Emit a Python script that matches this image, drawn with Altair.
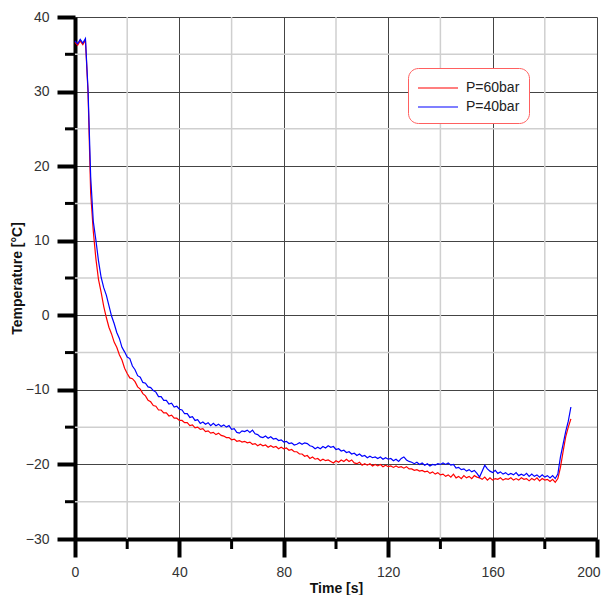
import altair as alt
import pandas as pd

SERIES = ["P=60bar", "P=40bar"]
COLORS = ["#ff0000", "#0000ff"]

TIME = list(range(0, 191))

T_60 = [
    36.6, 36.2, 36.8, 36.3, 36.9, 29.8, 16.4, 11.3, 7.6, 4.8,
    3.1, 1.2, -0.3, -1.6, -2.5, -3.6, -4.3, -5.3, -6.0, -7.1,
    -7.8, -8.4, -8.5, -8.9, -9.6, -9.9, -10.5, -10.8, -11.4, -11.6,
    -12.1, -12.2, -12.7, -12.7, -13.1, -13.1, -13.5, -13.4, -13.8, -13.8,
    -14.1, -14.1, -14.4, -14.4, -14.8, -14.7, -15.1, -15.0, -15.3, -15.2,
    -15.6, -15.5, -15.8, -15.7, -16.0, -15.8, -16.1, -16.2, -16.4, -16.4,
    -16.7, -16.6, -16.9, -16.8, -17.0, -16.9, -17.1, -17.0, -17.3, -17.2,
    -17.5, -17.3, -17.5, -17.4, -17.7, -17.5, -17.7, -17.6, -17.9, -17.7,
    -17.9, -17.8, -18.1, -18.0, -18.3, -18.3, -18.6, -18.6, -18.9, -18.8,
    -19.2, -19.0, -19.3, -19.2, -19.5, -19.3, -19.5, -19.4, -19.6, -19.8,
    -19.5, -19.7, -19.4, -19.6, -19.3, -19.6, -19.4, -19.8, -19.9, -19.7,
    -20.1, -19.9, -20.1, -19.9, -20.2, -20.0, -20.2, -20.0, -20.3, -20.1,
    -20.3, -20.2, -20.4, -20.2, -20.4, -20.3, -20.5, -20.3, -20.6, -20.6,
    -20.8, -20.7, -20.9, -20.8, -21.0, -20.9, -21.2, -21.0, -21.3, -21.1,
    -21.4, -21.3, -21.6, -21.4, -21.7, -21.3, -21.8, -21.6, -21.9, -21.5,
    -21.8, -21.6, -21.9, -21.5, -21.7, -21.8, -22.0, -21.7, -22.1, -21.8,
    -22.1, -21.9, -22.0, -21.8, -22.1, -21.9, -22.0, -21.8, -22.1, -21.9,
    -22.1, -21.8, -22.0, -21.9, -22.2, -21.9, -22.1, -21.8, -22.2, -21.9,
    -22.1, -22.0, -22.3, -22.0, -22.4, -21.9, -20.4, -18.3, -16.3, -15.0,
    -13.9,
]

T_40 = [
    36.8, 36.4, 37.0, 36.5, 37.1, 30.2, 18.6, 12.6, 10.1, 7.3,
    5.1, 3.7, 2.7, 1.3, -0.1, -1.1, -2.3, -3.1, -4.3, -4.9,
    -5.6, -5.8, -6.8, -7.3, -8.1, -8.3, -9.0, -9.1, -9.6, -9.7,
    -10.1, -10.3, -10.9, -10.9, -11.4, -11.4, -11.9, -11.8, -12.3, -12.2,
    -12.6, -12.7, -13.2, -13.2, -13.7, -13.6, -14.1, -14.0, -14.5, -14.3,
    -14.6, -14.4, -14.8, -14.5, -14.8, -14.6, -14.9, -14.7, -15.0, -14.8,
    -15.3, -15.2, -15.7, -15.8, -15.5, -15.6, -15.4, -15.7, -15.4, -15.9,
    -16.0, -16.3, -16.4, -16.2, -16.5, -16.3, -16.6, -16.5, -16.8, -16.7,
    -17.0, -16.9, -17.2, -17.1, -17.4, -17.3, -17.1, -17.3, -17.1, -17.2,
    -17.5, -17.6, -17.9, -17.7, -17.9, -17.6, -17.8, -17.5, -17.7, -17.6,
    -18.0, -17.9, -18.2, -18.1, -18.4, -18.3, -18.6, -18.5, -18.8, -18.6,
    -18.9, -18.8, -19.1, -18.9, -19.1, -19.0, -19.2, -19.0, -19.3, -19.1,
    -19.3, -19.2, -19.5, -19.3, -19.6, -19.2, -19.0, -19.4, -19.6, -19.7,
    -19.9, -19.7, -20.0, -19.8, -20.1, -19.9, -20.2, -20.0, -20.1, -19.9,
    -20.0, -19.8, -20.0, -19.8, -20.1, -20.0, -20.5, -20.4, -20.7, -20.6,
    -20.9, -20.7, -21.0, -20.8, -21.2, -21.7, -20.9, -20.1, -20.6, -20.9,
    -21.1, -20.8, -21.2, -21.0, -21.3, -21.1, -21.4, -21.2, -21.4, -21.1,
    -21.5, -21.3, -21.5, -21.2, -21.6, -21.3, -21.6, -21.4, -21.7, -21.4,
    -21.7, -21.5, -21.8, -21.5, -21.9, -21.3, -19.0, -17.3, -15.6, -14.2,
    -12.3,
]

X_MAJOR = [0, 40, 80, 120, 160, 200]
X_MINOR = [20, 60, 100, 140, 180]
Y_MAJOR = [-30, -20, -10, 0, 10, 20, 30, 40]
Y_MINOR = [-25, -15, -5, 5, 15, 25, 35]

FONT = "Liberation Sans"

df = pd.concat([
    pd.DataFrame({"t": TIME, "T": T_60, "series": SERIES[0]}),
    pd.DataFrame({"t": TIME, "T": T_40, "series": SERIES[1]}),
], ignore_index=True)
dfxm = pd.DataFrame({"t": X_MINOR})
dfym = pd.DataFrame({"T": Y_MINOR})

xscale = alt.Scale(domain=[0, 200], nice=False, zero=False)
yscale = alt.Scale(domain=[-30, 40], nice=False, zero=False)

xaxis = alt.Axis(
    values=X_MAJOR, title="Time [s]", tickSize=18, tickWidth=4, tickColor="black",
    domainColor="black", domainWidth=4, grid=True, gridColor="#444444", gridWidth=1,
    labelFont=FONT, labelFontSize=14, labelColor="#333333", labelPadding=8,
    labelAlign={"condition": {"test": "datum.value === 200", "value": "right"}, "value": "center"},
    labelOffset={"condition": {"test": "datum.value === 200", "value": 3}, "value": 0},
    titleFont=FONT, titleFontSize=14, titleFontWeight="bold", titleColor="#111111",
    titleY=42, labelFlush=False, labelBound=False,
)
yaxis = alt.Axis(
    values=Y_MAJOR, title="Temperature [°C]", tickSize=18, tickWidth=4, tickColor="black",
    domainColor="black", domainWidth=4, grid=True, gridColor="#444444", gridWidth=1,
    labelFont=FONT, labelFontSize=14, labelColor="#333333", labelPadding=8,
    titleFont=FONT, titleFontSize=14, titleFontWeight="bold", titleColor="#111111",
    titleX=-51, titleBaseline="bottom", labelFlush=False,
)

legend = alt.Legend(
    title=None, orient="none", legendX=333, legendY=51,
    strokeColor="#ff6060", cornerRadius=10, fillColor="white", padding=9,
    labelFont=FONT, labelFontSize=14, labelColor="#222222",
    symbolType="M-1,0H3", symbolSize=400, symbolStrokeWidth=1.2,
    labelOffset=27, rowPadding=1,
)

color = alt.Color("series:N", scale=alt.Scale(domain=SERIES, range=COLORS), legend=legend)

grid_x = alt.Chart(dfxm).mark_rule(color="#cfcfcf", strokeWidth=1.5).encode(
    x=alt.X("t:Q", scale=xscale, axis=xaxis)
)
grid_y = alt.Chart(dfym).mark_rule(color="#cfcfcf", strokeWidth=1.5).encode(
    y=alt.Y("T:Q", scale=yscale, axis=yaxis)
)

lines = alt.Chart(df).mark_line(strokeWidth=1.2).encode(
    x=alt.X("t:Q", scale=xscale, axis=xaxis),
    y=alt.Y("T:Q", scale=yscale, axis=yaxis),
    color=color,
    order=alt.Order("t:Q"),
)

tick_x = alt.Chart(dfxm).mark_rule(color="black", strokeWidth=3).encode(
    x=alt.X("t:Q", scale=xscale, axis=xaxis),
    y=alt.value(522), y2=alt.value(532),
)
tick_y = alt.Chart(dfym).mark_rule(color="black", strokeWidth=3).encode(
    y=alt.Y("T:Q", scale=yscale, axis=yaxis),
    x=alt.value(-10), x2=alt.value(0),
)

chart = alt.layer(grid_x, grid_y, lines, tick_x, tick_y).properties(
    width=522, height=522,
    padding={"left": 67, "top": 9, "right": 4, "bottom": 56},
    autosize=alt.AutoSizeParams(type="none"),
).configure_view(strokeWidth=0).configure(background="white")

chart.save("out.html", embed_options={"renderer": "svg", "actions": False})
